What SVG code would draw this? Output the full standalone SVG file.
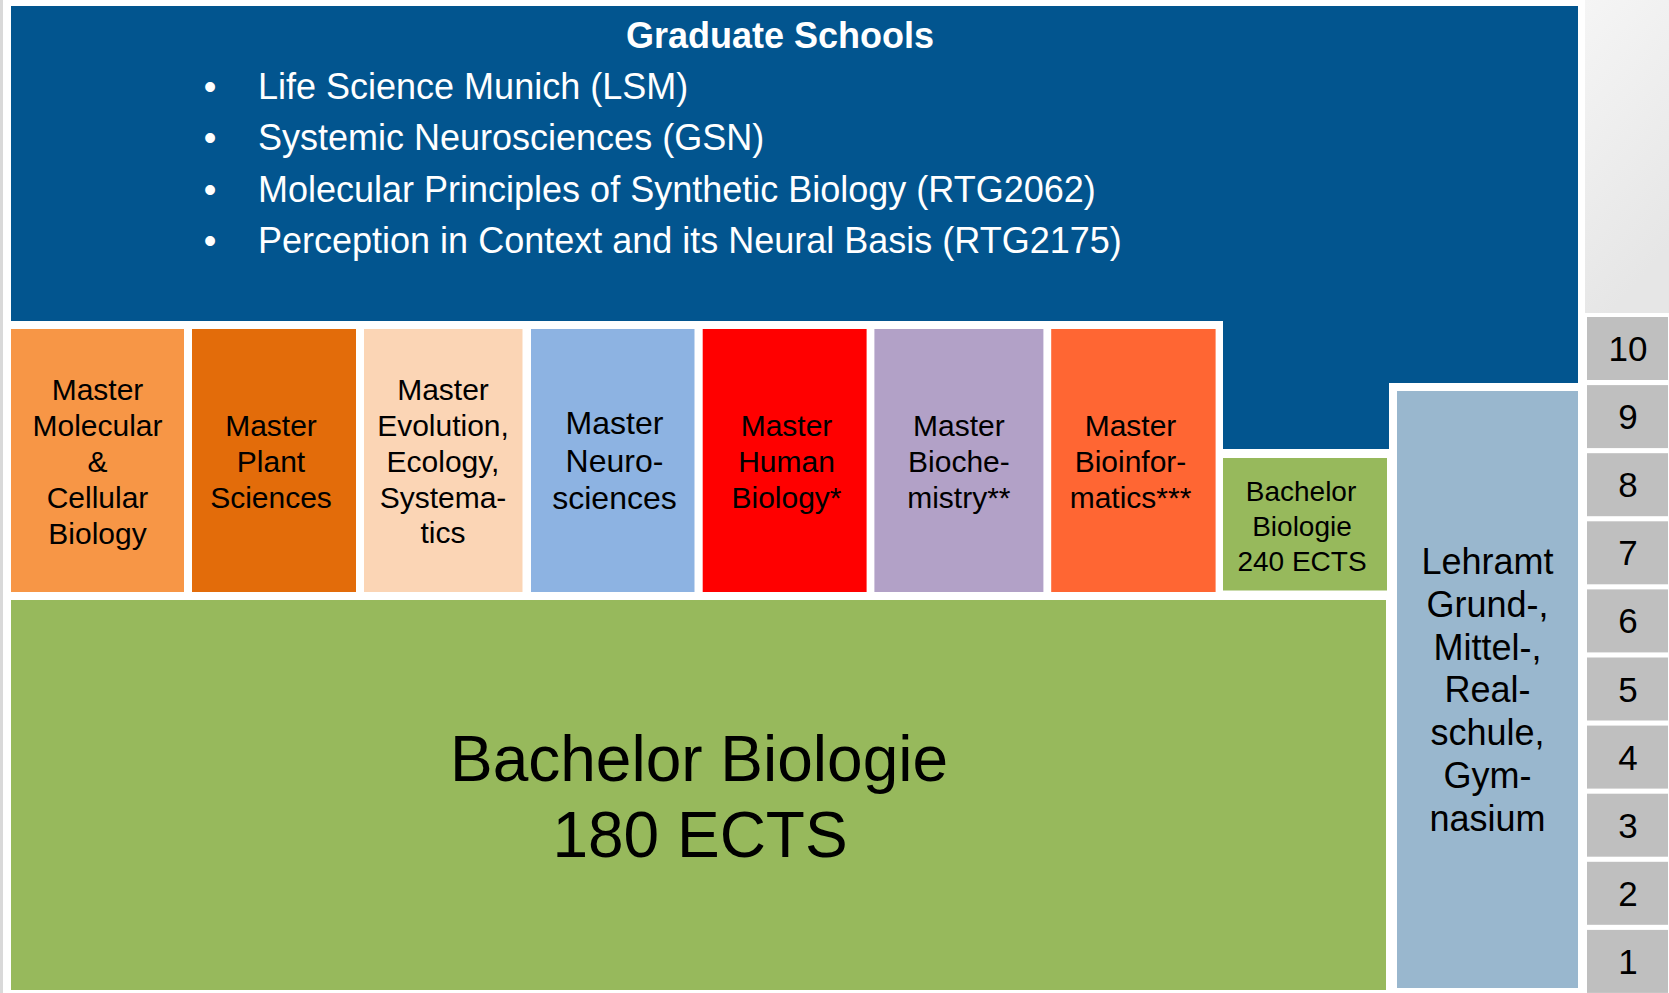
<svg xmlns="http://www.w3.org/2000/svg" width="1669" height="993" viewBox="0 0 1669 993">
  <defs>
    <linearGradient id="cornerGrad" x1="0" y1="0" x2="0.3" y2="1">
      <stop offset="0" stop-color="#f5f5f5"/>
      <stop offset="1" stop-color="#e6e6e6"/>
    </linearGradient>
    <style>
      text { font-family: "Liberation Sans", Arial, sans-serif; }
      .lbl { font-size: 30px; fill: #000; text-anchor: middle; }
      .lbl32 { font-size: 32px; fill: #000; text-anchor: middle; }
      .b240 { font-size: 28px; fill: #000; text-anchor: middle; }
      .big { font-size: 64px; fill: #000; text-anchor: middle; }
      .lehr { font-size: 36px; fill: #000; text-anchor: middle; }
      .num { font-size: 35px; fill: #000; text-anchor: middle; }
      .grade { fill: #bfbfbf; }
      .bullet { font-size: 36px; fill: #ffffff; }
      .title { font-size: 36px; font-weight: bold; fill: #ffffff; text-anchor: middle; }
    </style>
  </defs>

  <rect x="0" y="0" width="1669" height="993" fill="#ffffff"/>
  <rect x="0" y="0" width="3" height="993" fill="#d9d9d9"/>
  <rect x="1585" y="0" width="84" height="313" fill="url(#cornerGrad)"/>

  <g id="graduate-schools">
    <path d="M11,6 H1578 V383 H1389 V449 H1223 V321 H11 Z" fill="#02558f"/>
    <text class="title" x="780" y="48">Graduate Schools</text>
    <text class="bullet" x="210" y="99" text-anchor="middle">•</text>
    <text class="bullet" x="258" y="99">Life Science Munich (LSM)</text>
    <text class="bullet" x="210" y="150" text-anchor="middle">•</text>
    <text class="bullet" x="258" y="150">Systemic Neurosciences (GSN)</text>
    <text class="bullet" x="210" y="201.5" text-anchor="middle">•</text>
    <text class="bullet" x="258" y="201.5">Molecular Principles of Synthetic Biology (RTG2062)</text>
    <text class="bullet" x="210" y="253" text-anchor="middle">•</text>
    <text class="bullet" x="258" y="253">Perception in Context and its Neural Basis (RTG2175)</text>
  </g>

  <g id="master-mcb">
    <rect x="11" y="329" width="173" height="263" fill="#f79646"/>
    <text class="lbl" x="97.5" y="400">Master</text>
    <text class="lbl" x="97.5" y="436">Molecular</text>
    <text class="lbl" x="97.5" y="472">&amp;</text>
    <text class="lbl" x="97.5" y="508">Cellular</text>
    <text class="lbl" x="97.5" y="544">Biology</text>
  </g>

  <g id="master-plant">
    <rect x="192" y="329" width="164" height="263" fill="#e36c0a"/>
    <text class="lbl" x="271" y="436">Master</text>
    <text class="lbl" x="271" y="472">Plant</text>
    <text class="lbl" x="271" y="508">Sciences</text>
  </g>

  <g id="master-evolution">
    <rect x="364" y="329" width="158.5" height="263" fill="#fbd5b5"/>
    <text class="lbl" x="443" y="400">Master</text>
    <text class="lbl" x="443" y="436">Evolution,</text>
    <text class="lbl" x="443" y="472">Ecology,</text>
    <text class="lbl" x="443" y="508">Systema-</text>
    <text class="lbl" x="443" y="543">tics</text>
  </g>

  <g id="master-neuro">
    <rect x="531" y="329" width="163.5" height="263" fill="#8db3e2"/>
    <text class="lbl32" x="614.5" y="434">Master</text>
    <text class="lbl32" x="614.5" y="471.7">Neuro-</text>
    <text class="lbl32" x="614.5" y="509.3">sciences</text>
  </g>

  <g id="master-human">
    <rect x="702.7" y="329" width="163.9" height="263" fill="#ff0000"/>
    <text class="lbl" x="786.5" y="436">Master</text>
    <text class="lbl" x="786.5" y="472">Human</text>
    <text class="lbl" x="786.5" y="508">Biology*</text>
  </g>

  <g id="master-biochem">
    <rect x="874.4" y="329" width="169" height="263" fill="#b2a1c7"/>
    <text class="lbl" x="958.9" y="436">Master</text>
    <text class="lbl" x="958.9" y="472">Bioche-</text>
    <text class="lbl" x="958.9" y="508">mistry**</text>
  </g>

  <g id="master-bioinfo">
    <rect x="1051.2" y="329" width="164.4" height="263" fill="#ff6633"/>
    <text class="lbl" x="1130.5" y="436">Master</text>
    <text class="lbl" x="1130.5" y="472">Bioinfor-</text>
    <text class="lbl" x="1130.5" y="508">matics***</text>
  </g>

  <g id="bachelor-240">
    <rect x="1223" y="458" width="164" height="132.5" fill="#97b95c"/>
    <text class="b240" x="1301" y="500.7">Bachelor</text>
    <text class="b240" x="1302" y="536">Biologie</text>
    <text class="b240" x="1302" y="570.7">240 ECTS</text>
  </g>

  <g id="bachelor-180">
    <rect x="11" y="600" width="1375" height="390" fill="#97b95c"/>
    <text class="big" x="699" y="781">Bachelor Biologie</text>
    <text class="big" x="700" y="857">180 ECTS</text>
  </g>

  <g id="lehramt">
    <rect x="1397" y="391" width="181" height="597" fill="#99b7ce"/>
    <text class="lehr" x="1487.5" y="574">Lehramt</text>
    <text class="lehr" x="1487.5" y="616.8">Grund-,</text>
    <text class="lehr" x="1487.5" y="659.6">Mittel-,</text>
    <text class="lehr" x="1487.5" y="702.4">Real-</text>
    <text class="lehr" x="1487.5" y="745.2">schule,</text>
    <text class="lehr" x="1487.5" y="788">Gym-</text>
    <text class="lehr" x="1487.5" y="830.8">nasium</text>
  </g>

  <g id="semester-scale">
    <g id="sem-10"><rect class="grade" x="1587" y="317" width="81" height="63"/><text class="num" x="1628" y="361">10</text></g>
    <g id="sem-9"><rect class="grade" x="1587" y="385.1" width="81" height="63"/><text class="num" x="1628" y="429.1">9</text></g>
    <g id="sem-8"><rect class="grade" x="1587" y="453.2" width="81" height="63"/><text class="num" x="1628" y="497.2">8</text></g>
    <g id="sem-7"><rect class="grade" x="1587" y="521.3" width="81" height="63"/><text class="num" x="1628" y="565.3">7</text></g>
    <g id="sem-6"><rect class="grade" x="1587" y="589.4" width="81" height="63"/><text class="num" x="1628" y="633.4">6</text></g>
    <g id="sem-5"><rect class="grade" x="1587" y="657.5" width="81" height="63"/><text class="num" x="1628" y="701.5">5</text></g>
    <g id="sem-4"><rect class="grade" x="1587" y="725.6" width="81" height="63"/><text class="num" x="1628" y="769.6">4</text></g>
    <g id="sem-3"><rect class="grade" x="1587" y="793.7" width="81" height="63"/><text class="num" x="1628" y="837.7">3</text></g>
    <g id="sem-2"><rect class="grade" x="1587" y="861.8" width="81" height="63"/><text class="num" x="1628" y="905.8">2</text></g>
    <g id="sem-1"><rect class="grade" x="1587" y="929.9" width="81" height="63"/><text class="num" x="1628" y="973.9">1</text></g>
  </g>

  <g id="connectors"></g>
</svg>
